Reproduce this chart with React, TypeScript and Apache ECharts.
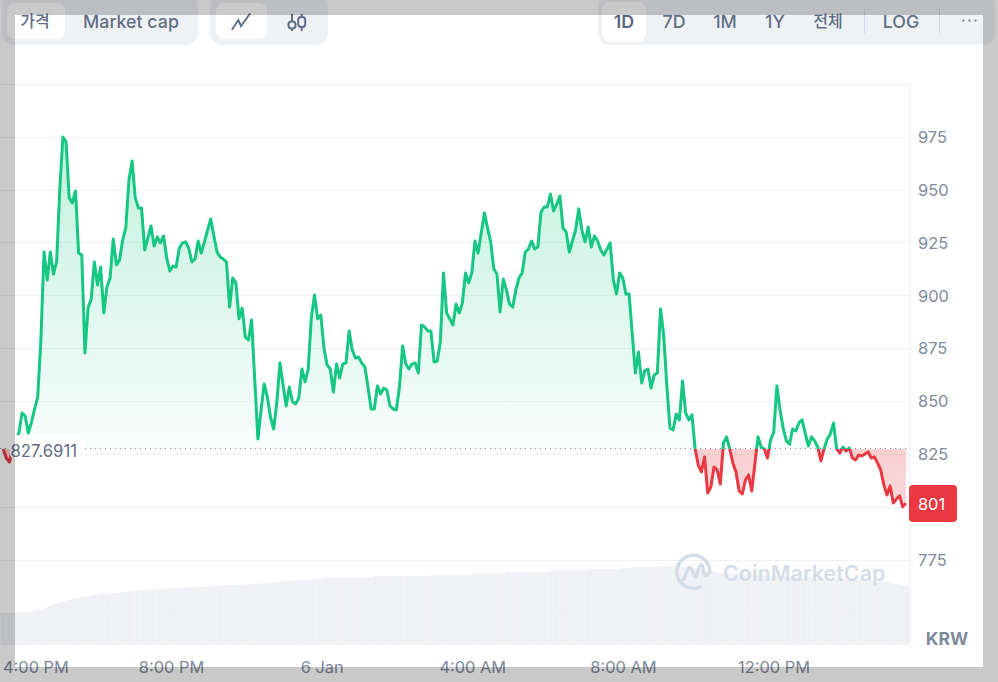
import React, { useEffect, useRef } from 'react';
import * as echarts from 'echarts';

const baseline = 827.6911;
const lastPrice = 801;

// 5 minute slots, first and last slot of the axis stay empty
const prices = [
  827.5, 823.2, 821.3, 827.0, 831.7, 835.0, 844.5, 843.1, 835.0, 840.2,
  846.4, 852.1, 879.0, 920.6, 907.4, 920.6, 910.2, 915.9, 949.9, 975.0,
  972.6, 946.2, 943.8, 949.5, 920.1, 919.2, 872.9, 894.1, 898.4, 915.9,
  905.0, 913.5, 891.8, 904.1, 908.3, 926.8, 914.5, 916.8, 926.3, 932.0,
  954.7, 963.6, 946.2, 941.4, 941.4, 921.6, 927.2, 932.9, 923.5, 927.7,
  924.9, 928.2, 917.8, 911.6, 914.0, 913.5, 922.5, 924.9, 925.4, 922.5,
  915.9, 917.3, 925.8, 920.1, 925.4, 931.0, 936.2, 928.2, 920.6, 918.3,
  917.3, 915.9, 894.6, 908.3, 906.0, 889.0, 894.1, 880.4, 879.0, 888.5,
  860.1, 832.2, 845.9, 858.2, 852.1, 842.6, 836.9, 849.2, 868.1, 857.7,
  847.8, 856.8, 849.7, 848.8, 851.6, 865.3, 859.2, 865.3, 889.9, 900.3,
  889.0, 890.8, 875.2, 867.2, 865.3, 854.4, 867.7, 861.1, 867.7, 868.1,
  883.3, 874.3, 870.5, 871.0, 868.1, 866.3, 856.8, 846.4, 846.4, 857.3,
  853.5, 856.3, 855.4, 847.8, 846.4, 845.9, 856.8, 876.2, 867.7, 865.3,
  867.7, 868.1, 863.4, 886.1, 885.2, 883.3, 883.3, 868.6, 869.1, 878.1,
  910.7, 891.8, 889.0, 886.1, 896.0, 891.8, 896.5, 910.7, 906.0, 910.7,
  925.8, 920.1, 929.6, 939.1, 932.0, 925.4, 912.6, 910.2, 892.3, 907.9,
  902.7, 896.0, 894.6, 902.7, 908.3, 910.7, 920.6, 922.0, 925.8, 922.0,
  923.0, 939.5, 941.9, 941.9, 948.0, 940.0, 943.3, 947.1, 932.0, 930.1,
  920.6, 925.8, 931.0, 941.0, 931.0, 925.4, 932.4, 923.0, 928.2, 925.8,
  921.6, 919.2, 922.0, 924.9, 907.4, 900.8, 910.7, 908.3, 900.8, 900.8,
  882.3, 863.4, 873.3, 858.7, 864.4, 865.3, 856.3, 862.5, 863.4, 893.7,
  881.4, 857.7, 837.4, 836.5, 844.0, 841.2, 859.6, 844.5, 841.2, 843.6,
  827.5, 819.9, 816.6, 823.7, 806.7, 809.5, 819.0, 817.6, 810.9, 830.3,
  833.2, 827.5, 820.9, 816.6, 807.6, 806.2, 812.8, 815.2, 807.6, 820.4,
  833.2, 828.4, 827.5, 823.2, 831.7, 835.5, 857.3, 845.9, 837.4, 831.3,
  829.8, 836.9, 836.0, 839.8, 841.2, 835.0, 828.9, 833.2, 831.3, 828.4,
  821.8, 827.5, 832.2, 834.6, 839.8, 827.5, 825.6, 828.4, 826.5, 828.0,
  823.2, 822.3, 824.6, 824.2, 825.1, 826.1, 823.2, 823.7, 820.9, 817.6,
  810.5, 805.7, 810.0, 801.9, 803.8, 805.3, 800.1, 801.9,
];

const volumes = [
  31, 31, 31, 31, 31, 31.5, 31.5, 32, 32, 32,
  33, 33.5, 34, 35, 36.5, 38, 39, 40, 41, 42,
  43, 44, 44.5, 45, 46, 46.5, 47, 47.5, 48, 48.5,
  49, 49.5, 50, 50, 50.5, 50.5, 51, 51, 51.5, 52,
  52.5, 52.5, 53, 53.5, 54, 54, 54, 54.5, 54.5, 55,
  55, 55.5, 55.5, 56, 56, 56, 56, 56, 56, 56.5,
  56.5, 56.5, 57, 57, 57, 57.5, 57.5, 57.5, 58, 58,
  58, 58.5, 58.5, 59, 59, 59, 59, 59.5, 59.5, 60,
  60, 60.5, 60.5, 61, 61, 61, 61.5, 61.5, 62, 62,
  63, 63, 63, 63.5, 63.5, 64, 64, 64, 64.5, 64.5,
  64.7, 65, 65, 65.5, 66.3, 66.3, 66.3, 66.3, 66.3, 66.3,
  66.3, 66.3, 66.3, 66.3, 66.3, 66.3, 66.3, 66.3, 66.3, 67.7,
  67.7, 67.7, 67.7, 67.7, 67.7, 67.7, 67.7, 67.7, 67.7, 67.7,
  67.7, 67.7, 67.7, 67.7, 67.7, 67.7, 67.7, 69, 69, 69,
  69, 69, 69, 69, 69, 69, 69, 69, 69, 69,
  70.7, 70.7, 70.7, 70.7, 70.7, 70.7, 70.7, 70.7, 70.7, 70.7,
  70.7, 72, 72, 72, 72, 72, 72, 72, 72, 72,
  72, 72, 72, 72, 72, 73.7, 73.7, 73.7, 73.7, 73.7,
  73.7, 73.7, 73.7, 73.7, 73.7, 73.7, 73.7, 75, 75, 75,
  75, 75, 75, 75, 75, 75, 75, 75.7, 76, 76,
  76, 77, 77, 77, 77, 77, 77, 77, 77, 78,
  78, 78, 78, 78, 78, 78, 78, 77.5, 77, 76.5,
  76, 75.5, 75, 74.5, 74, 73.5, 73, 72.5, 71, 71,
  71, 70.5, 70.5, 70.5, 70, 70, 70, 69.5, 69.5, 69.5,
  69, 69, 69, 68.5, 68.5, 68.5, 68, 68, 68, 67.5,
  67.5, 67.5, 67, 67, 67, 66.5, 66.5, 66.5, 66, 66,
  66, 65.5, 65.5, 65.5, 65, 65, 65, 64.5, 64.5, 64.5,
  64, 64, 64, 63.5, 63.5, 63.5, 63, 63, 63, 62.5,
  62.5, 62.5, 62, 61.5, 60.5, 60, 59.5, 59, 58, 57.5,
];

const tickSlots = [6, 54, 102, 150, 198, 246];
const tickLabels = ['4:00 PM', '8:00 PM', '6 Jan', '4:00 AM', '8:00 AM', '12:00 PM'];
const hiddenPriceTicks = [750, 800, 1000];
const leftTabs = ['가격', 'Market cap'];
const rangeTabs = ['1D', '7D', '1M', '1Y', '전체', 'LOG'];
const rangeTabX = [624, 674, 725, 775, 828, 901];

const UP = '#16c784';
const DOWN = '#ea3943';
const MUTED = '#808a9d';
const TAB = '#616e85';
const FONT = 'Inter, "Noto Sans CJK KR", sans-serif';

echarts.graphic.registerShape(
  'cmcLogo',
  echarts.graphic.extendPath(
    'M7 15A16.5 16.5 0 1 1 16.5 1M-10 8L-5 -3Q-3.5 -6 -2 -3L1 4Q2 6 3 4L6 -5Q8 -9 9.5 -5L10.5 1Q11.5 6 16.5 1',
    {},
  ),
);

// Korean tabs sit at 16px, the latin ones read wider
const tabText = (text: string, x: number, weight = 500) => ({
  type: 'text',
  z: 20,
  style: {
    text,
    x,
    y: 21,
    fill: weight > 500 ? '#58667e' : TAB,
    font: `${weight} ${/[가-힣]/.test(text) ? 16 : 17.8}px ${FONT}`,
    textAlign: 'center',
    textVerticalAlign: 'middle',
  },
});

const panel = (x: number, y: number, width: number, height: number, r: number, fill: string) => ({
  type: 'rect',
  z: 19,
  shape: { x, y, width, height, r },
  style: { fill },
});

const App: React.FC = () => {
  const ref = useRef<HTMLDivElement>(null);

  useEffect(() => {
    if (!ref.current) return;
    const chart = echarts.init(ref.current, undefined, { renderer: 'svg' });

    const slots = volumes.map((_, i) => String(i));
    const priceData = [null, ...prices];
    const top = Math.max(...prices);
    const bottom = Math.min(...prices);
    const split = (top - baseline) / (top - bottom);
    const overlay = 'rgba(0,0,0,0.21)';

    chart.setOption({
      animation: false,
      backgroundColor: '#fff',
      grid: [
        { left: 0, right: 89, top: 84.1, height: 528.75 },
        { left: 0, right: 89, top: 544, height: 100 },
      ],
      xAxis: [
        { type: 'category', gridIndex: 0, data: slots, boundaryGap: false, show: false },
        {
          type: 'category',
          gridIndex: 1,
          data: slots,
          boundaryGap: false,
          axisLine: { lineStyle: { color: '#eff2f5' } },
          axisTick: { show: false },
          axisLabel: {
            margin: 15,
            color: MUTED,
            fontFamily: FONT,
            fontSize: 16.4,
            interval: (i: number) => tickSlots.includes(i),
            formatter: (_: string, i: number) => {
              const pos = tickSlots.indexOf(i);
              if (pos < 0) return '';
              return pos === 0 ? `{first|${tickLabels[pos]}}` : tickLabels[pos];
            },
            rich: {
              first: { color: MUTED, fontFamily: FONT, fontSize: 16.4, padding: [0, 0, 0, 30] },
            },
          },
        },
      ],
      yAxis: [
        {
          type: 'value',
          gridIndex: 0,
          position: 'right',
          min: 750,
          max: 1000,
          interval: 25,
          axisLine: { show: true, lineStyle: { color: '#eff2f5' } },
          axisTick: { show: false },
          splitLine: { lineStyle: { color: '#eff2f5' } },
          axisLabel: {
            margin: 9,
            color: MUTED,
            fontFamily: FONT,
            fontSize: 16.4,
            formatter: (v: number) => (hiddenPriceTicks.includes(v) ? '' : String(v)),
          },
        },
        {
          type: 'value',
          gridIndex: 1,
          position: 'right',
          min: 0,
          max: 100,
          interval: 100,
          axisLine: { show: true, lineStyle: { color: '#eff2f5' } },
          axisTick: { show: false },
          axisLabel: { show: false },
          splitLine: { show: false },
        },
      ],
      visualMap: {
        show: false,
        seriesIndex: 0,
        dimension: 1,
        pieces: [
          { gte: 0, lte: baseline, color: DOWN },
          { gt: baseline, lte: 2000, color: UP },
        ],
      },
      series: [
        {
          type: 'line',
          xAxisIndex: 0,
          yAxisIndex: 0,
          data: priceData,
          showSymbol: false,
          symbol: 'none',
          z: 3,
          lineStyle: { width: 3, join: 'round' },
          areaStyle: {
            origin: baseline,
            opacity: 1,
            color: new echarts.graphic.LinearGradient(0, 0, 0, 1, [
              { offset: 0, color: 'rgba(22,199,132,0.26)' },
              { offset: split, color: 'rgba(22,199,132,0.03)' },
              { offset: split, color: 'rgba(234,57,67,0.24)' },
              { offset: 1, color: 'rgba(234,57,67,0.2)' },
            ]),
          },
          markLine: {
            silent: true,
            symbol: 'none',
            label: { show: false },
            lineStyle: { color: MUTED, width: 1, type: [1, 4] },
            data: [{ yAxis: baseline }],
          },
        },
        {
          type: 'bar',
          xAxisIndex: 1,
          yAxisIndex: 1,
          data: volumes,
          barWidth: '100%',
          z: 4,
          itemStyle: { color: '#eff1f5', borderColor: '#eff1f5', borderWidth: 0.4 },
        },
      ],
      graphic: [
        // tabs
        panel(2, -6, 196, 51, 12, '#eff2f5'),
        panel(7, 3, 58, 36, 8, '#fff'),
        tabText(leftTabs[0], 35),
        tabText(leftTabs[1], 131),
        panel(210, -6, 118, 51, 12, '#eff2f5'),
        panel(216, 3, 51, 36, 8, '#fff'),
        {
          type: 'polyline',
          z: 20,
          shape: { points: [[232.3, 29.3], [238.3, 20], [241, 26], [249.7, 14]] },
          style: { stroke: TAB, lineWidth: 2, fill: 'none', lineCap: 'round' },
        },
        { type: 'line', z: 20, shape: { x1: 292, y1: 14, x2: 292, y2: 21 }, style: { stroke: TAB, lineWidth: 2 } },
        { type: 'line', z: 20, shape: { x1: 292, y1: 29, x2: 292, y2: 31 }, style: { stroke: TAB, lineWidth: 2 } },
        { type: 'rect', z: 20, shape: { x: 288.5, y: 21.5, width: 7, height: 7, r: 3 }, style: { stroke: TAB, lineWidth: 2, fill: 'none' } },
        { type: 'line', z: 20, shape: { x1: 301.7, y1: 14, x2: 301.7, y2: 17 }, style: { stroke: TAB, lineWidth: 2 } },
        { type: 'line', z: 20, shape: { x1: 301.7, y1: 27, x2: 301.7, y2: 31 }, style: { stroke: TAB, lineWidth: 2 } },
        { type: 'rect', z: 20, shape: { x: 298.2, y: 17, width: 7, height: 10, r: 3 }, style: { stroke: TAB, lineWidth: 2, fill: 'none' } },
        panel(598, -6, 397, 51, 12, '#eff2f5'),
        panel(602, 2, 44, 40, 8, '#fff'),
        ...rangeTabs.map((t, i) => tabText(t, rangeTabX[i], i === 0 ? 600 : 500)),
        { type: 'line', z: 20, shape: { x1: 864.5, y1: 9, x2: 864.5, y2: 33 }, style: { stroke: '#cfd6e4', lineWidth: 1 } },
        { type: 'line', z: 20, shape: { x1: 939.5, y1: 9, x2: 939.5, y2: 33 }, style: { stroke: '#cfd6e4', lineWidth: 1 } },
        { type: 'circle', z: 20, shape: { cx: 963.5, cy: 20.5, r: 1.2 }, style: { fill: MUTED } },
        { type: 'circle', z: 20, shape: { cx: 969.5, cy: 20.5, r: 1.2 }, style: { fill: MUTED } },
        { type: 'circle', z: 20, shape: { cx: 975.5, cy: 20.5, r: 1.2 }, style: { fill: MUTED } },
        // baseline label
        panel(10, 435, 75, 25, 6, '#fff'),
        {
          type: 'text',
          z: 20,
          style: { text: String(baseline), x: 10.5, y: 451, fill: TAB, font: `16.7px ${FONT}`, textVerticalAlign: 'middle' },
        },
        // last price tag
        panel(909, 485, 48, 37, 4, DOWN),
        {
          type: 'text',
          z: 20,
          style: { text: String(lastPrice), x: 931.5, y: 504, fill: '#fff', font: `16.4px ${FONT}`, textAlign: 'center', textVerticalAlign: 'middle' },
        },
        {
          type: 'text',
          z: 20,
          style: { text: 'KRW', x: 947, y: 638, fill: MUTED, font: `700 17.6px ${FONT}`, textAlign: 'center', textVerticalAlign: 'middle' },
        },
        // watermark
        {
          type: 'cmcLogo',
          x: 693.3,
          y: 571.7,
          z: 20,
          style: { fill: 'none', stroke: '#d5dce8', lineWidth: 3.4, lineCap: 'round', lineJoin: 'round' },
        },
        {
          type: 'text',
          z: 20,
          style: { text: 'CoinMarketCap', x: 723, y: 573, fill: '#d5dce8', font: `600 21.5px ${FONT}`, textVerticalAlign: 'middle' },
        },
        // page dimmer round the card
        { type: 'rect', z: 100, shape: { x: 0, y: 0, width: 998, height: 15 }, style: { fill: overlay } },
        { type: 'rect', z: 100, shape: { x: 0, y: 667, width: 998, height: 15 }, style: { fill: overlay } },
        { type: 'rect', z: 100, shape: { x: 0, y: 15, width: 15, height: 652 }, style: { fill: overlay } },
        { type: 'rect', z: 100, shape: { x: 983, y: 15, width: 15, height: 652 }, style: { fill: overlay } },
      ],
    });

    return () => chart.dispose();
  }, []);

  return <div ref={ref} style={{ position: 'fixed', left: 0, top: 0, width: 998, height: 682 }} />;
};

export default App;
